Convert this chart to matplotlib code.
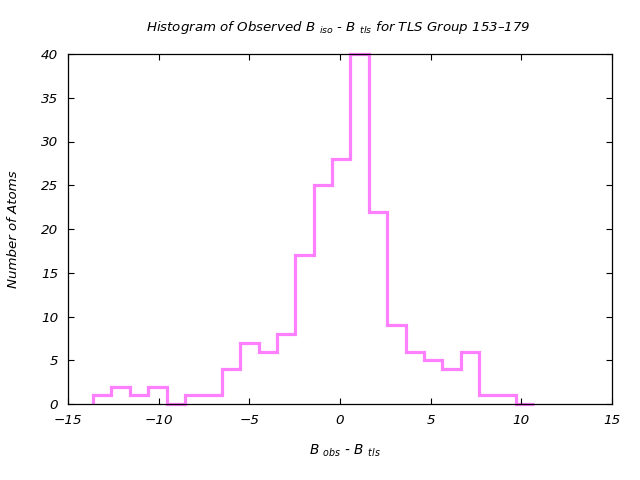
import numpy as np
import matplotlib
matplotlib.use("Agg")
import matplotlib.pyplot as plt

# Histogram data
bin_start = -13.62
bin_width = 1.014
counts = [1, 2, 1, 2, 0, 1, 1, 4, 7, 6, 8, 17, 25, 28, 40, 22, 9, 6, 5, 4, 6, 1, 1, 0]
x_ticks = [-15, -10, -5, 0, 5, 10, 15]
y_ticks = [0, 5, 10, 15, 20, 25, 30, 35, 40]

edges = bin_start + bin_width * np.arange(len(counts) + 1)

plt.rcParams['font.family'] = ['DejaVu Sans']
plt.rcParams['mathtext.fontset'] = 'dejavusans'

fig = plt.figure(figsize=(6.4, 4.8), dpi=100)
ax = fig.add_axes([68/640, 1-404/480, (612-68)/640, (404-54)/480])

ax.stairs(counts, edges, color='#ff80ff', linewidth=2.3, baseline=0, clip_on=False, zorder=1)

ax.set_xlim(-15, 15)
ax.set_ylim(0, 40)
ax.set_xticks(x_ticks)
ax.set_yticks(y_ticks)
ax.tick_params(direction='in', top=True, right=True, length=4.5, width=0.8,
               labelsize=9.7, pad=7)
for lab in ax.get_xticklabels() + ax.get_yticklabels():
    lab.set_fontstyle('italic')
for s in ax.spines.values():
    s.set_linewidth(0.9)
    s.set_zorder(3)

fig.text(338/640, 1-27/480, r"Histogram of Observed $B\ _{iso}$ - $B\ _{tls}$ for TLS Group 153–179",
         ha='center', va='center', fontsize=9.6, style='italic')
fig.text(345/640, 1-451/480, r"$B\ _{obs}$ - $B\ _{tls}$", ha='center', va='center',
         fontsize=9.8, style='italic')
fig.text(14/640, 1-229/480, "Number of Atoms", ha='center', va='center',
         rotation=90, fontsize=9.6, style='italic')

fig.savefig("out.png", dpi=100)
